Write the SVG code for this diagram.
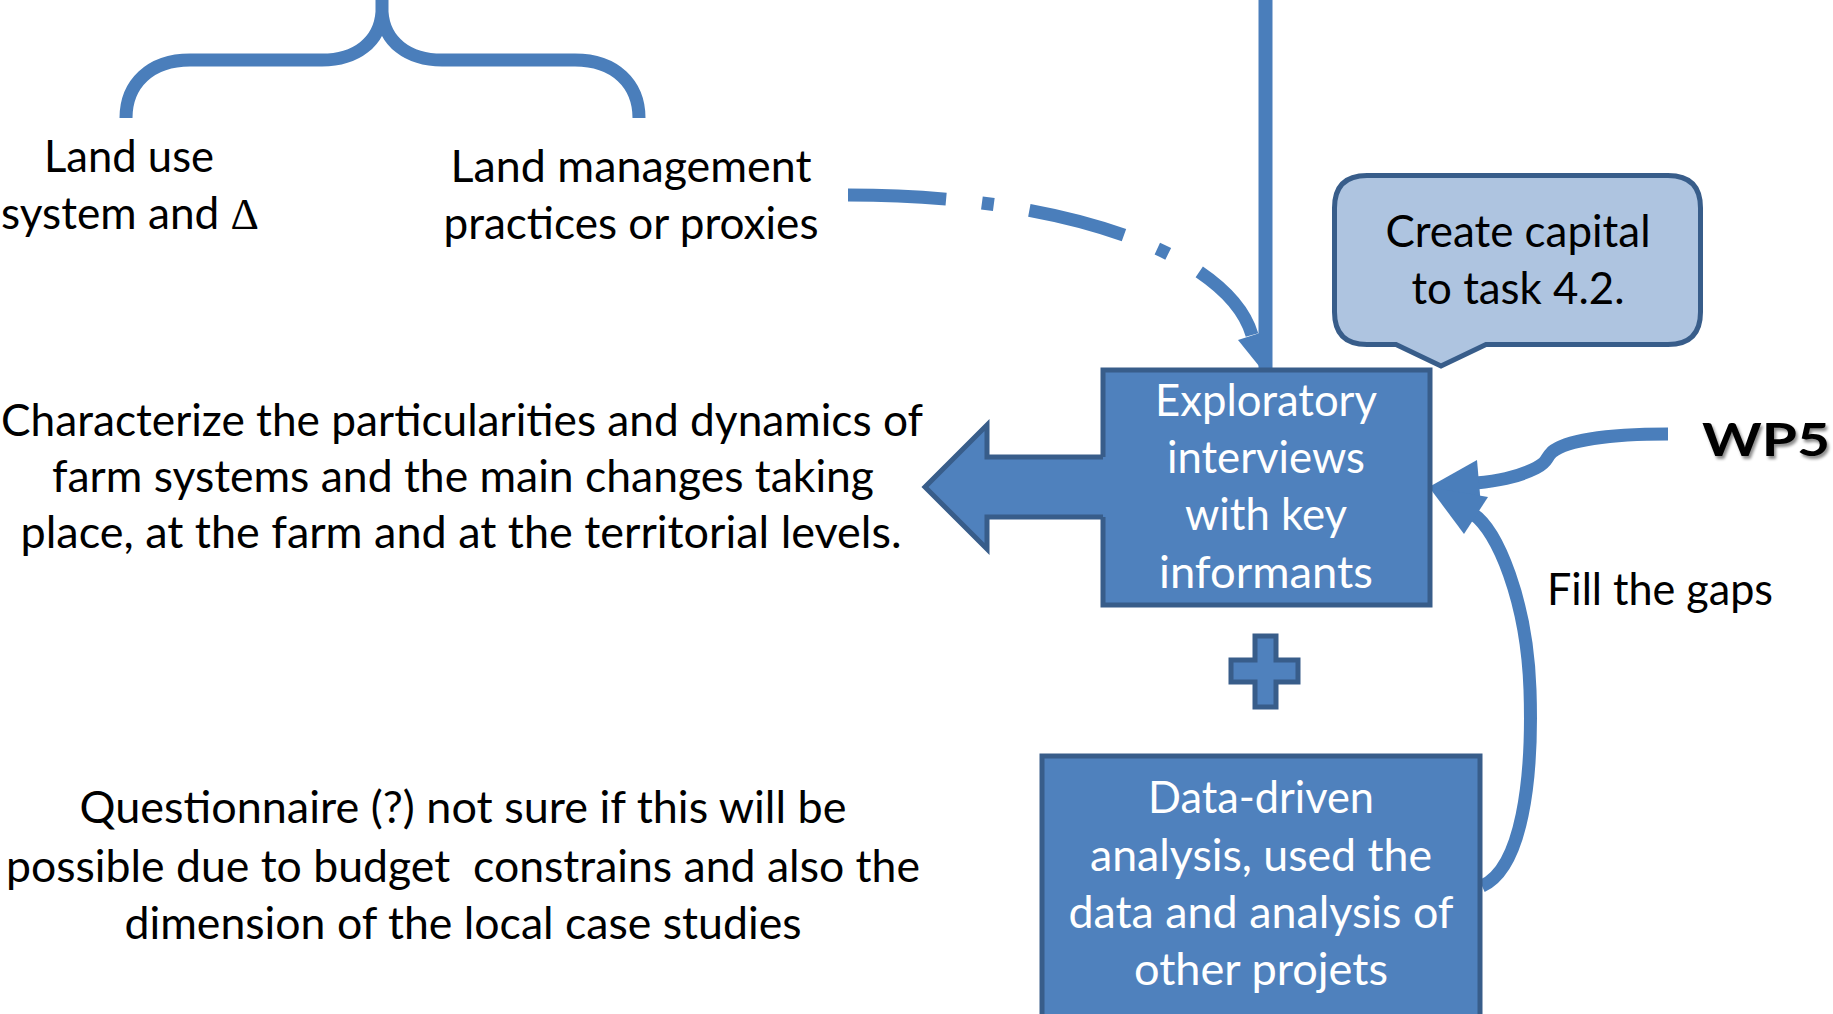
<svg xmlns="http://www.w3.org/2000/svg" width="1833" height="1014" viewBox="0 0 1833 1014">
<defs>
<style>
.t{font-family:Lato,"Open Sans","Liberation Sans",sans-serif;font-size:45px;fill:#000;text-anchor:middle}
.w{fill:#fff}
.box{fill:#4F81BD;stroke:#385D8A;stroke-width:5}
.ln{fill:none;stroke:#4A7EBB;stroke-width:13}
.hd{fill:#4A7EBB;stroke:none}
</style>
<filter id="sh" x="-10%" y="-10%" width="130%" height="140%">
<feDropShadow dx="2" dy="3" stdDeviation="1.5" flood-color="#000" flood-opacity="0.45"/>
</filter>
</defs>

<g id="connectors">
  <path id="brace" class="ln" stroke-width="11" d="M126,118 C126,84 150,60 190,60 L322,60 C356,60 380,42 382,12 L382,-5 M382,12 C384,42 408,60 442,60 L575,60 C615,60 639,84 639,118"/>
  <path id="dashdot-arc" class="ln" stroke-width="12" stroke-dasharray="98 36 12 36" d="M848,195 C1080,195 1230,260 1252,335"/>
  <polygon class="hd" points="1263,371 1238,340 1266,331"/>
  <line id="top-line" x1="1265.5" y1="0" x2="1265.5" y2="370" stroke="#4A7EBB" stroke-width="14"/>
  <path id="wp5-arrow" class="ln" stroke-width="14" d="M1668,434 C1610,434 1566,440 1552,452 C1545,459 1548,462 1536,468 C1516,478 1496,481 1476,483"/>
  <polygon class="hd" points="1429,487 1477,460 1481,506"/>
  <path id="gaps-arrow" class="ln" stroke-width="14" d="M1482,886 C1522,868 1533,780 1530,690 C1527,600 1497,530 1473,514"/>
  <polygon class="hd" points="1429,487 1464,534 1488,497"/>
</g>

<g id="node-exploratory">
  <rect class="box" x="1103" y="370" width="327" height="235"/>
  <text class="t w" x="1266" y="416" textLength="222" lengthAdjust="spacingAndGlyphs">Exploratory</text>
  <text class="t w" x="1266" y="473" textLength="198" lengthAdjust="spacingAndGlyphs">interviews</text>
  <text class="t w" x="1266" y="530" textLength="162" lengthAdjust="spacingAndGlyphs">with key</text>
  <text class="t w" x="1266" y="588" textLength="214" lengthAdjust="spacingAndGlyphs">informants</text>
</g>

<g id="block-arrow">
  <polygon fill="#4F81BD" points="925,487 987,425 987,457 1106,457 1106,517 987,517 987,549"/>
  <path fill="none" stroke="#385D8A" stroke-width="5" stroke-linejoin="miter" d="M1103,457 H987 V425 L925,487 L987,549 V517 H1103"/>
</g>

<g id="node-plus">
  <polygon class="box" points="1255,636 1276,636 1276,660 1298,660 1298,682 1276,682 1276,707 1255,707 1255,682 1231,682 1231,660 1255,660"/>
</g>

<g id="node-data">
  <rect class="box" x="1042" y="756" width="438" height="280"/>
  <text class="t w" x="1261" y="813" textLength="226" lengthAdjust="spacingAndGlyphs">Data-driven</text>
  <text class="t w" x="1261" y="871" textLength="342" lengthAdjust="spacingAndGlyphs">analysis, used the</text>
  <text class="t w" x="1261" y="928" textLength="385" lengthAdjust="spacingAndGlyphs">data and analysis of</text>
  <text class="t w" x="1261" y="985" textLength="254" lengthAdjust="spacingAndGlyphs">other projets</text>
</g>

<g id="node-callout">
  <path fill="#AEC4E0" stroke="#385D8A" stroke-width="5" d="M1367,175.5 H1668 Q1700.5,175.5 1700.5,208 V312 Q1700.5,344.5 1668,344.5 H1486 L1441,366 L1396,344.5 H1367 Q1334.5,344.5 1334.5,312 V208 Q1334.5,175.5 1367,175.5 Z"/>
  <text class="t" x="1518" y="247" textLength="265" lengthAdjust="spacingAndGlyphs">Create capital</text>
  <text class="t" x="1518" y="304" textLength="213" lengthAdjust="spacingAndGlyphs">to task 4.2.</text>
</g>

<g id="node-wp5">
  <text class="t" x="1766" y="456" font-size="60" font-weight="700" filter="url(#sh)" textLength="128" lengthAdjust="spacingAndGlyphs">WP5</text>
</g>

<g id="label-fill">
  <text class="t" x="1660" y="605" textLength="226" lengthAdjust="spacingAndGlyphs">Fill the gaps</text>
</g>

<g id="node-landuse">
  <text class="t" x="129" y="172" textLength="170" lengthAdjust="spacingAndGlyphs">Land use</text>
  <text class="t" x="130" y="229" textLength="258" lengthAdjust="spacingAndGlyphs">system and <tspan font-family="'Liberation Serif',serif">Δ</tspan></text>
</g>

<g id="node-landmgmt">
  <text class="t" x="631" y="182" textLength="361" lengthAdjust="spacingAndGlyphs">Land management</text>
  <text class="t" x="631" y="239" textLength="375" lengthAdjust="spacingAndGlyphs">practices or proxies</text>
</g>

<g id="node-characterize">
  <text class="t" x="462" y="436" textLength="922" lengthAdjust="spacingAndGlyphs">Characterize the particularities and dynamics of</text>
  <text class="t" x="463" y="492" textLength="822" lengthAdjust="spacingAndGlyphs">farm systems and the main changes taking</text>
  <text class="t" x="461" y="548" textLength="881" lengthAdjust="spacingAndGlyphs">place, at the farm and at the territorial levels.</text>
</g>

<g id="node-questionnaire">
  <text class="t" x="463" y="823" textLength="767" lengthAdjust="spacingAndGlyphs">Questionnaire (?) not sure if this will be</text>
  <text class="t" x="463" y="882" textLength="914" lengthAdjust="spacingAndGlyphs" xml:space="preserve">possible due to budget  constrains and also the</text>
  <text class="t" x="463" y="939" textLength="677" lengthAdjust="spacingAndGlyphs">dimension of the local case studies</text>
</g>
</svg>
